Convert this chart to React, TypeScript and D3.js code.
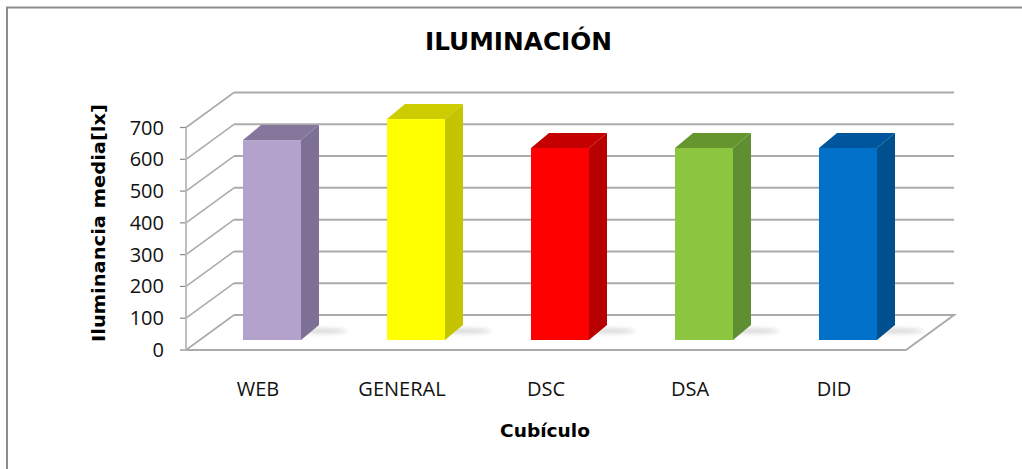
import React from "react";
import * as d3 from "d3";

const categories = ["WEB", "GENERAL", "DSC", "DSA", "DID"];
const values = [629, 695, 604, 604, 604];
const frontColors = ["#b3a2cc", "#ffff00", "#ff0000", "#8cc63f", "#0070c8"];
const sideColors = ["#7d6f94", "#c4c400", "#b80000", "#5f8f32", "#00508f"];
const topColors = ["#85769c", "#cccc00", "#c40000", "#65962f", "#00569c"];
const yTicks = [0, 100, 200, 300, 400, 500, 600, 700];

const W = 1022, H = 469;
const DX = 48, DY = -35;
const y = d3.scaleLinear().domain([0, 700]).range([350, 127.5]);
const x = d3.scaleBand<string>().domain(categories).range([186, 906]);
const barW = 58, barShift = 14, depthX = 18, depthY = -15, baseLift = 10;
const FONT = "'DejaVu Sans', Verdana, sans-serif";
const CAT = "'Open Sans', 'Noto Sans', sans-serif";
const GRID = "#ababab";

const pts = (a: [number, number][]) => a.map(p => p.join(",")).join(" ");

export default function App() {
  const x0 = x.range()[0], x1 = x.range()[1];
  return (
    <svg width={W} height={H} style={{ position: "absolute", left: 0, top: 0, background: "#fff" }}>
      <defs>
        <filter id="soft" x="-5%" y="-5%" width="110%" height="110%"><feGaussianBlur stdDeviation="0.7" /></filter>
        <filter id="shadow" x="-30%" y="-200%" width="160%" height="500%"><feGaussianBlur stdDeviation="2" /></filter>
      </defs>
      <polyline points={pts([[7, H], [7, 7.5], [W, 7.5]])} fill="none" stroke="#8c8c8c" strokeWidth={2} />
      <text x={518.5} y={49.5} textAnchor="middle" fontFamily={FONT} fontWeight={700} fontSize={24} textLength={187} lengthAdjust="spacingAndGlyphs">ILUMINACIÓN</text>

      <g filter="url(#soft)">
        {yTicks.map(t => (
          <g key={t}>
            {t > 0 && <line x1={x0 + DX} x2={x1 + DX} y1={y(t) + DY} y2={y(t) + DY} stroke={GRID} strokeWidth={2} />}
            <polyline points={pts([[x0, y(t)], [x0 + DX, y(t) + DY]])} fill="none" stroke={GRID} strokeWidth={1.6} />
            <line x1={x0 - 6} x2={x0} y1={y(t)} y2={y(t)} stroke="#888" strokeWidth={1.2} />
          </g>
        ))}
        <line x1={x0} x2={x0} y1={y(0)} y2={y(700)} stroke="#b8b8b8" strokeWidth={1.8} />
        <polyline points={pts([[x0 + DX, y(0) + DY], [x1 + DX, y(0) + DY], [x1, y(0)], [x0, y(0)]])} fill="none" stroke={GRID} strokeWidth={2} />
        {categories.map((c, i) => {
          const cx = x(c)! + x.bandwidth() / 2 + barShift;
          const l = cx - barW / 2, r = cx + barW / 2;
          const bot = y(0) - baseLift;
          const top = bot - (y(0) - y(values[i]));
          return (
            <g key={c}>
              <ellipse cx={r + 22} cy={bot - 9} rx={24} ry={2.5} fill="#9a9a9a" opacity={0.4} filter="url(#shadow)" />
              <polygon points={pts([[l, top], [r, top], [r + depthX, top + depthY], [l + depthX, top + depthY]])} fill={topColors[i]} />
              <polygon points={pts([[r, top], [r + depthX, top + depthY], [r + depthX, bot + depthY], [r, bot]])} fill={sideColors[i]} />
              <rect x={l} y={top} width={barW} height={bot - top} fill={frontColors[i]} />
            </g>
          );
        })}
      </g>

      {yTicks.map(t => (
        <text key={t} x={164} y={y(t) + 7} textAnchor="end" fontFamily={CAT} fontSize={20} fill="#111">{t}</text>
      ))}
      <text transform="translate(105,223) rotate(-90)" textAnchor="middle" fontFamily={FONT} fontWeight={700} fontSize={18} textLength={238} lengthAdjust="spacingAndGlyphs">Iluminancia media[lx]</text>
      {categories.map(c => (
        <text key={c} x={x(c)! + x.bandwidth() / 2} y={396} textAnchor="middle" fontFamily={CAT} fontSize={20} fill="#111">{c}</text>
      ))}
      <text x={545} y={437} textAnchor="middle" fontFamily={FONT} fontWeight={700} fontSize={18} textLength={90} lengthAdjust="spacingAndGlyphs">Cubículo</text>
    </svg>
  );
}
